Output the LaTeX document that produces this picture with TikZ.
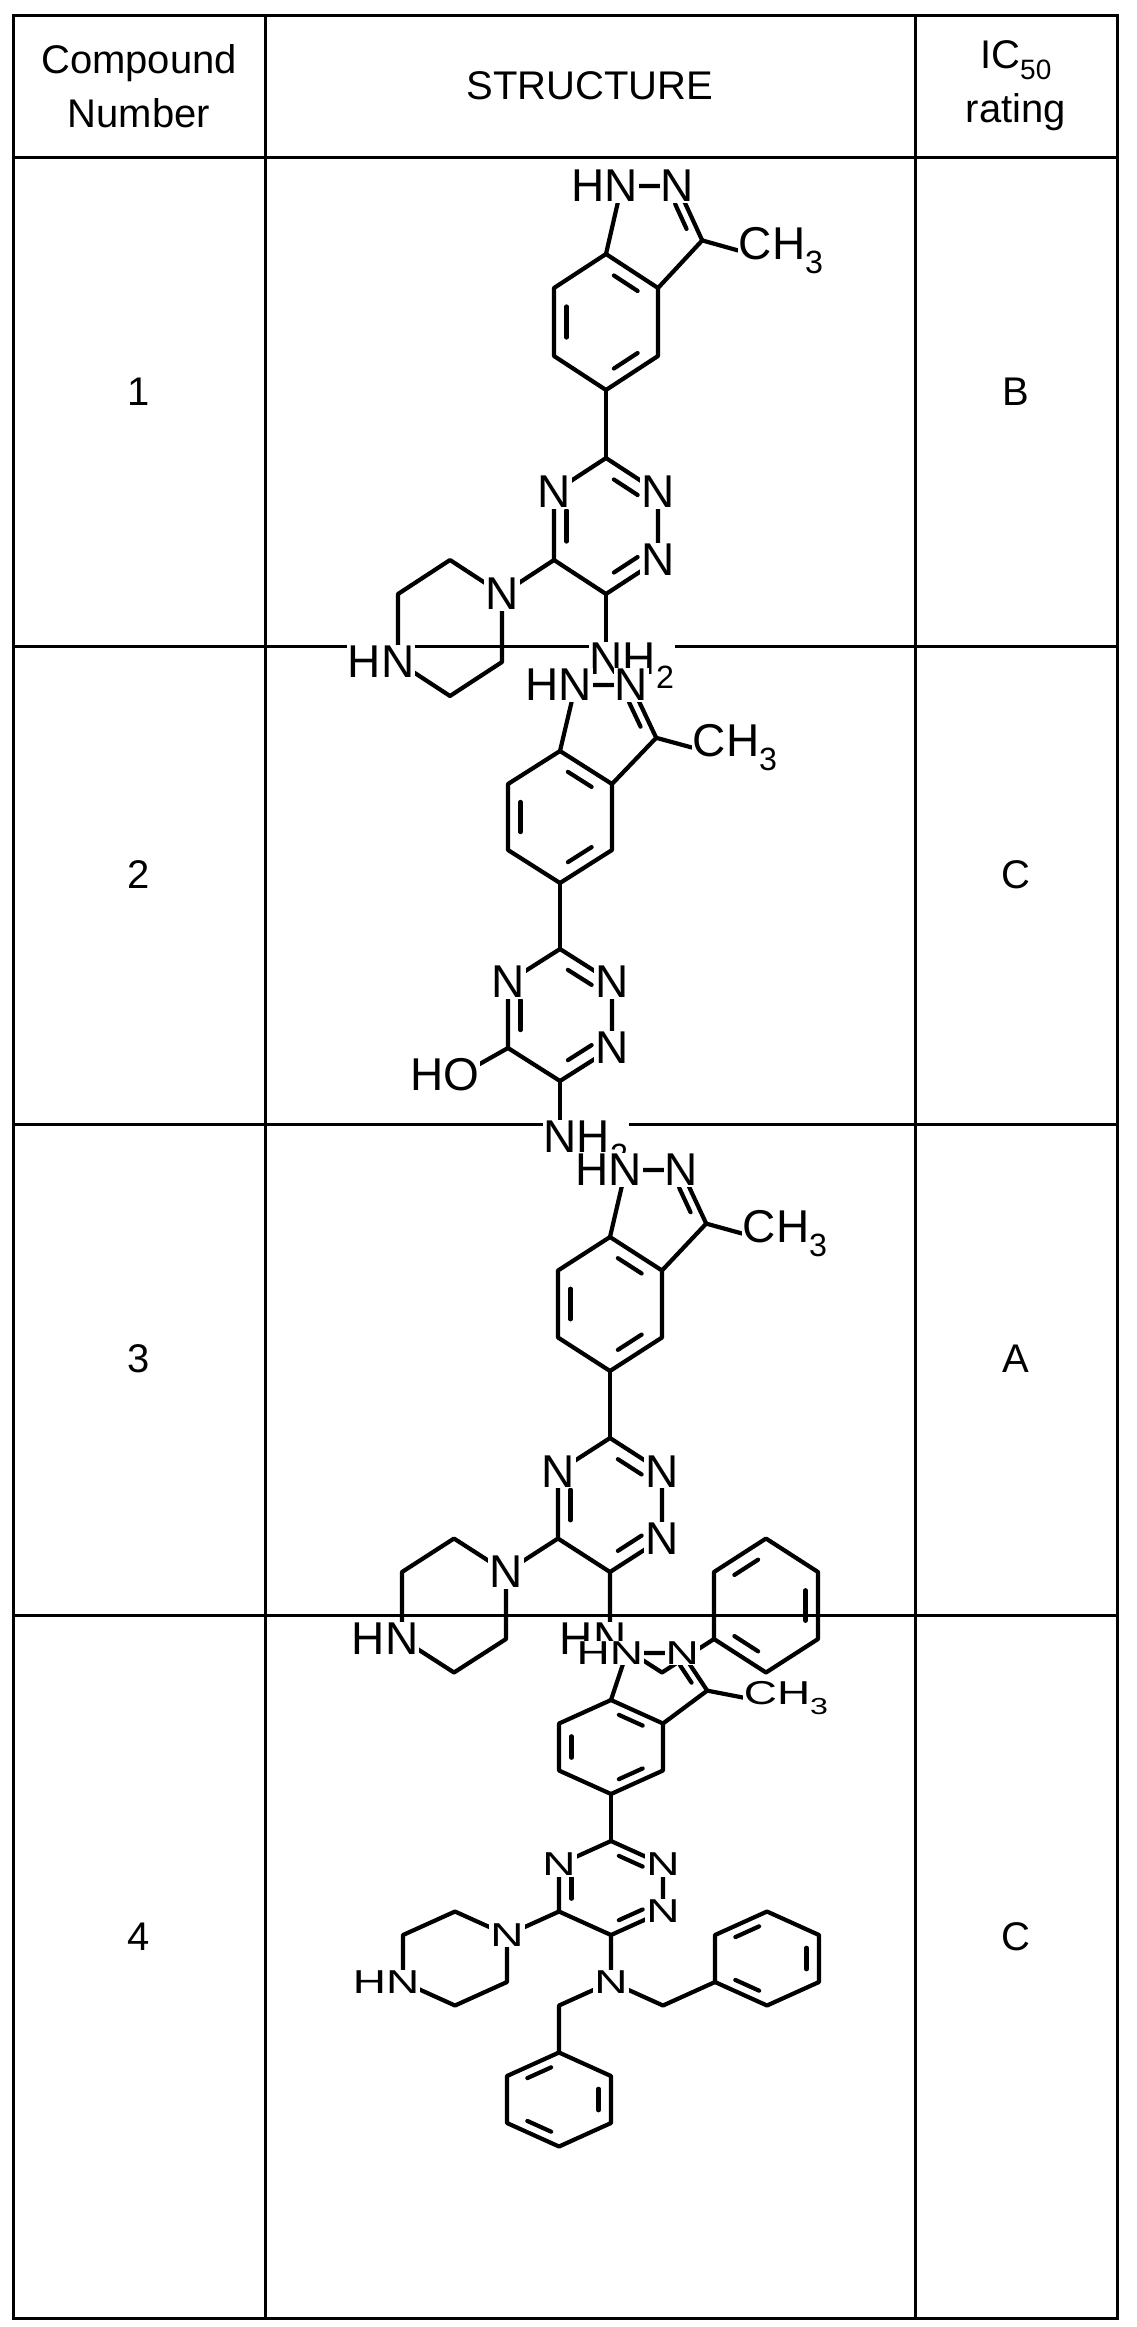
\documentclass[tikz,border=0pt]{standalone}
\usepackage{fontspec}
\setmainfont{Liberation Sans}
\usepackage{graphicx}
\usetikzlibrary{calc}
\newcommand\tv{1}
\newcommand\dbl[3]{\draw[bond] ($(#1)!0.2!(#2)!0.24!(#3)$) -- ($(#2)!0.2!(#1)!0.24!(#3)$);}
\newcommand\labtxt[1]{\scalebox{1}[\tv]{#1}}
\newcommand\core{%
 \coordinate (a) at (0,-2); \coordinate (b) at (1,-1); \coordinate (c) at (1,1);
 \coordinate (d) at (0,2); \coordinate (e) at (-1,1); \coordinate (f) at (-1,-1);
 \coordinate (bc) at (0,0);
 \coordinate (n1) at (0.3,-4); \coordinate (n2) at (1.37,-4);
 \coordinate (c3) at (1.85,-2.4); \coordinate (pc) at (0.9,-2.8);
 \coordinate (me) at (2.55,-2.1);
 \coordinate (t1) at (0,4); \coordinate (t2) at (1,5); \coordinate (t3) at (1,7);
 \coordinate (t4) at (0,8); \coordinate (t5) at (-1,7); \coordinate (t6) at (-1,5);
 \coordinate (tc) at (0,6);
 \draw[bond] (a)--(b)--(c)--(d)--(e)--(f)--cycle;
 \draw[bond] (d)--(t1);
 \draw[bond] (t1)--(t2)--(t3)--(t4)--(t5)--(t6)--cycle;
 \draw[bond] (a)--(n1)--(n2)--(c3)--(b);
 \draw[bond] (c3)--(me);
 \dbl{a}{b}{bc}\dbl{e}{f}{bc}\dbl{c}{d}{bc}
 \dbl{t1}{t2}{tc}\dbl{t3}{t4}{tc}\dbl{t5}{t6}{tc}\dbl{n2}{c3}{pc}
}
\newcommand\corelabels{%
 \node[lab,anchor=east,xshift=17.6pt] (ln1) at (n1) {\labtxt{HN}};
 \node[lab] (ln2) at (n2) {\labtxt{N}};
 \node[lab] (lt2) at (t2) {\labtxt{N}};
 \node[lab] (lt3) at (t3) {\labtxt{N}};
 \node[lab] (lt6) at (t6) {\labtxt{N}};
 \node[lab,anchor=west,xshift=-1pt] (lme) at (me) {\labtxt{CH\textsubscript{3}}};
}
\newcommand\pip{%
 \coordinate (p1) at (-2,8); \coordinate (p2) at (-3,7); \coordinate (p3) at (-4,8);
 \coordinate (p4) at (-4,10); \coordinate (p5) at (-3,11); \coordinate (p6) at (-2,10);
 \draw[bond] (t5)--(p1);
 \draw[bond] (p1)--(p2)--(p3)--(p4)--(p5)--(p6)--cycle;
}
\newcommand\piplabels{%
 \node[lab] (lp1) at (p1) {\labtxt{N}};
 \node[lab,anchor=east,xshift=17.6pt] (lp4) at (p4) {\labtxt{HN}};
}
\newcommand\phenyl[2]{%
 \coordinate (q1) at (#1,#2-2); \coordinate (q2) at (#1+1,#2-1); \coordinate (q3) at (#1+1,#2+1);
 \coordinate (q4) at (#1,#2+2); \coordinate (q5) at (#1-1,#2+1); \coordinate (q6) at (#1-1,#2-1);
 \coordinate (qc) at (#1,#2);
 \draw[bond] (q1)--(q2)--(q3)--(q4)--(q5)--(q6)--cycle;
 \dbl{q6}{q1}{qc}\dbl{q2}{q3}{qc}\dbl{q5}{q4}{qc}
}
\tikzset{squash/.code={\def\tv{0.72}}}
\begin{document}
\begin{tikzpicture}[x=1pt,y=-1pt,
  bond/.style={line width=4.2pt,line join=round,line cap=round},
  lab/.style={font=\fontsize{46}{46}\selectfont,fill=white,inner sep=1pt},
  grid/.style={line width=3pt},
  ttext/.style={font=\fontsize{40}{48}\selectfont,align=center}]
\useasboundingbox (0,0) rectangle (1137,2327);
\draw[grid] (13,15) rectangle (1117,2318);
\foreach \yy in {157,646,1124,1615} \draw[grid] (13,\yy) -- (1117,\yy);
\draw[grid] (265,15) -- (265,2318);
\draw[grid] (915,15) -- (915,2318);
\node[ttext] (h1) at (139,86) {Compound\\[6pt]Number};
\node[ttext] (h2) at (590,86) {STRUCTURE};
\node[ttext] (h3) at (1016,86) {IC\textsubscript{50}\\[6pt]rating};
\node[ttext] (r1) at (139,392) {1};
\node[ttext] (r2) at (139,875) {2};
\node[ttext] (r3) at (139,1359) {3};
\node[ttext] (r4) at (139,1937) {4};
\node[ttext] (s1) at (1016,392) {B};
\node[ttext] (s2) at (1016,875) {C};
\node[ttext] (s3) at (1016,1359) {A};
\node[ttext] (s4) at (1016,1937) {C};
\begin{scope}[xshift=606pt,yshift=-322pt,x=52pt,y=-34pt]
 \core \pip
 \coordinate (am) at (0,10.1);
 \draw[bond] (t4)--(am);
 \corelabels \piplabels
 \node[lab,anchor=west,xshift=-17.6pt] (lam) at (am) {NH\textsubscript{2}};
\end{scope}
\begin{scope}[xshift=560pt,yshift=-817pt,x=52pt,y=-33pt]
 \core
 \coordinate (am) at (0,9.9);
 \coordinate (ox) at (-1.9,7.8);
 \draw[bond] (t4)--(am);
 \draw[bond] (t5)--(ox);
 \corelabels
 \node[lab,anchor=west,xshift=-17.6pt] (lam) at (am) {NH\textsubscript{2}};
 \node[lab,anchor=east,xshift=19pt] (lox) at (ox) {HO};
\end{scope}
\begin{scope}[xshift=610pt,yshift=-1304pt,x=52pt,y=-33.5pt]
 \core \pip
 \coordinate (nh) at (0,10); \coordinate (ch) at (1,11);
 \phenyl{3}{9}
 \draw[bond] (t4)--(nh)--(ch)--(q5);
 \corelabels \piplabels
 \node[lab,anchor=east,xshift=17.6pt] (lnh) at (nh) {HN};
\end{scope}
\begin{scope}[squash,xshift=611pt,yshift=-1747pt,x=52pt,y=-23.5pt]
 \core \pip
 \coordinate (nn) at (0,10); \coordinate (ch) at (1,11);
 \coordinate (cl) at (-1,11);
 \phenyl{3}{9}
 \draw[bond] (t4)--(nn)--(ch)--(q5);
 \phenyl{-1}{15}
 \draw[bond] (nn)--(cl)--(q1);
 \corelabels \piplabels
 \node[lab] (lnn) at (nn) {\labtxt{N}};
\end{scope}
\end{tikzpicture}
\end{document}
